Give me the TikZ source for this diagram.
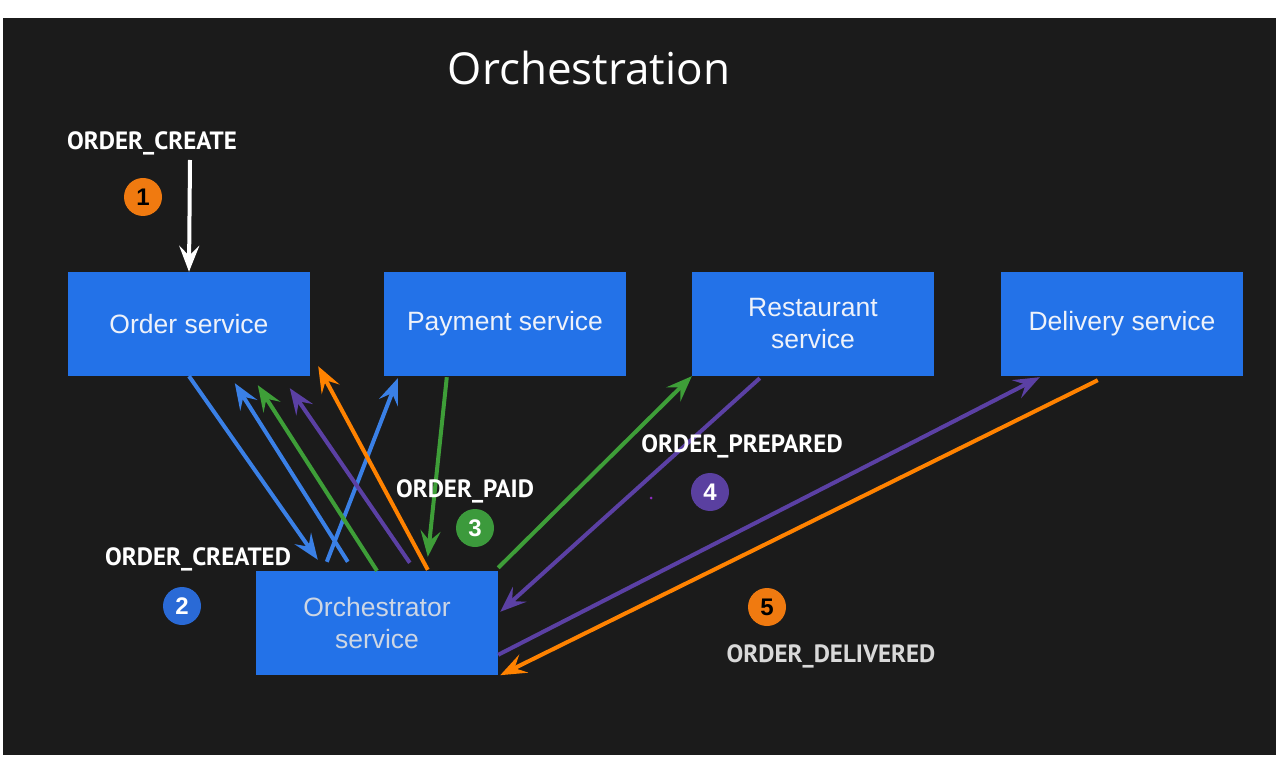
\documentclass[tikz,border=0pt]{standalone}
\usepackage{fontspec}
\setmainfont{Liberation Sans}
\newfontfamily\titlefont{Open Sans}
\newfontfamily\eventfont{PT Sans}
\usetikzlibrary{arrows.meta,calc}
\definecolor{slidebg}{HTML}{1B1B1B}
\definecolor{boxblue}{HTML}{2372E8}
\definecolor{boxtext}{HTML}{EEF2FA}
\definecolor{orchtext}{HTML}{CDD6E4}
\definecolor{arrblue}{HTML}{3A80E6}
\definecolor{arrgreen}{HTML}{3E9E38}
\definecolor{arrpurple}{HTML}{5B40A4}
\definecolor{arrorange}{HTML}{FF8200}
\definecolor{badgeorange}{HTML}{F07A10}
\definecolor{badgeblue}{HTML}{2A6AD6}
\definecolor{badgegreen}{HTML}{3C9A3C}
\definecolor{badgepurple}{HTML}{5A40A0}

\begin{document}
\begin{tikzpicture}[x=1pt, y=-1pt,
    service/.style={fill=boxblue, minimum width=242pt, minimum height=104pt,
      inner sep=0pt, align=center, text=boxtext,
      font=\fontsize{26.5}{32}\selectfont},
    event/.style={text=white, inner sep=0pt,
      font=\eventfont\bfseries\fontsize{25}{27}\selectfont},
    badge/.style={circle, minimum size=38pt, inner sep=0pt,
      font=\bfseries\fontsize{24}{24}\selectfont},
    flow/.style={line width=4pt,
      -{Stealth[length=26pt 0, width=20pt 0, inset=10pt 0]}}
  ]
  % Slide background with its white margin
  \fill[white] (0,0) rectangle (1287,783);
  \fill[slidebg] (3,18) rectangle (1276,755);

  % Title
  \node[text=white, font=\titlefont\fontsize{44}{48}\selectfont] (title)
    at (589,68) {Orchestration};

  % The services
  \node[service] (order) at (189,324) {Order service};
  \node[service] (payment) at (505,324) {Payment service};
  \node[service] (restaurant) at (813,324) {Restaurant\\service};
  \node[service] (delivery) at (1122,324) {Delivery service};
  \node[service, text=orchtext] (orch) at (377,623) {Orchestrator\\service};

  % Incoming command
  \coordinate (createin) at (190,160);
  \draw[flow, white] (createin) -- (order.north);

  % Blue: order created
  \draw[flow, arrblue] (order.south) -- ([xshift=62pt, yshift=11pt]orch.north west);
  \draw[flow, arrblue] ([xshift=92pt, yshift=9pt]orch.north west)
    -- ([xshift=167pt, yshift=-7pt]order.south west);
  \draw[flow, arrblue] ([xshift=71pt, yshift=9pt]orch.north west)
    -- ([xshift=14pt, yshift=-2pt]payment.south west);

  % Green: order paid
  \draw[flow, arrgreen] (orch.north) -- ([xshift=190pt, yshift=-9pt]order.south west);
  \draw[flow, arrgreen] ([xshift=63pt, yshift=-1pt]payment.south west)
    -- ([xshift=172pt, yshift=14pt]orch.north west);
  \draw[flow, arrgreen] ([yshift=3pt]orch.north east) -- (restaurant.south west);

  % Purple: order prepared
  \draw[flow, arrpurple] ([xshift=154pt, yshift=8pt]orch.north west)
    -- ([xshift=222pt, yshift=-12pt]order.south west);
  \draw[flow, arrpurple] ([xshift=68pt, yshift=-2pt]restaurant.south west)
    -- ([xshift=2pt, yshift=-41pt]orch.north east);
  \draw[flow, arrpurple] ([yshift=-84pt]orch.north east)
    -- ([xshift=39pt, yshift=-1pt]delivery.south west);

  % Orange: order delivered
  \draw[flow, arrorange] ([xshift=172pt, yshift=1pt]orch.north west)
    -- ([xshift=8pt, yshift=10pt]order.south east);
  \draw[flow, arrorange] ([xshift=97pt, yshift=-4pt]delivery.south west)
    -- ([xshift=2pt]orch.south east);

  % Event names
  \node[event] (create) at (152,143) {ORDER\_CREATE};
  \node[event] (created) at (198,559) {ORDER\_CREATED};
  \node[event] (paid) at (465,491) {ORDER\_PAID};
  \node[event] (prepared) at (742,446) {ORDER\_PREPARED};
  \node[event, text=white!85!black] (delivered) at (831,656) {ORDER\_DELIVERED};

  % Step numbers
  \foreach \n/\x/\y/\fillcol/\numcol in {1/143/197/badgeorange/black,
      2/182/606/badgeblue/white, 3/475/528/badgegreen/white,
      4/710/492/badgepurple/white, 5/767/607/badgeorange/black} {
    \node[badge, fill=\fillcol, text=\numcol] (badge\n) at (\x,\y) {\n};
  }
  % stray dot
  \fill[arrpurple!70!magenta] (651,498) circle (1.5pt);
\end{tikzpicture}
\end{document}
